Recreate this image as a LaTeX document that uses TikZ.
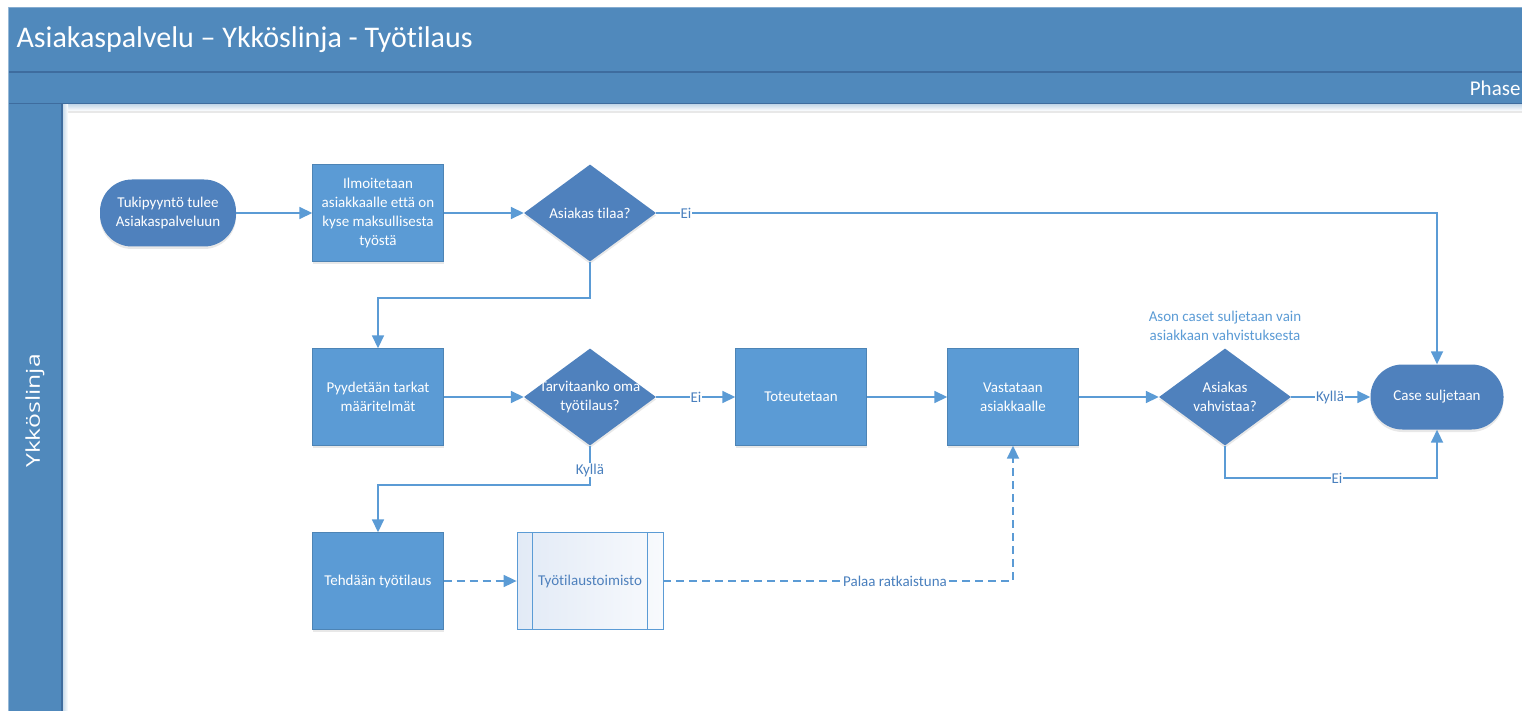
\documentclass[tikz,border=0pt]{standalone}
\usepackage{fontspec}
\setmainfont{Carlito}[RawFeature=-liga]
\newfontfamily\lanefont{Open Sans}
\usetikzlibrary{shapes.geometric,arrows.meta,shadows,calc}

\definecolor{band}{RGB}{80,137,188}
\definecolor{bandline}{RGB}{62,108,158}
\definecolor{darknode}{RGB}{79,129,189}
\definecolor{lightnode}{RGB}{91,155,213}
\definecolor{wire}{RGB}{91,155,213}
\definecolor{lbltext}{RGB}{74,128,190}
\definecolor{subleft}{RGB}{226,234,246}
\definecolor{subright}{RGB}{248,250,253}

\begin{document}
\begin{tikzpicture}[x=1pt,y=-1pt,
  font=\fontsize{15}{19}\selectfont,
  shade/.style={drop shadow={shadow xshift=0pt,shadow yshift=-2.5pt,opacity=0.18}},
  term/.style={rectangle,rounded corners=32pt,fill=darknode,text=white,align=center,
    minimum width=136pt,minimum height=67pt,inner sep=2pt,shade},
  proc/.style={rectangle,fill=lightnode,draw=lightnode!85!black,line width=0.4pt,text=white,align=center,
    minimum width=131pt,minimum height=97pt,inner sep=2pt,shade},
  decision/.style={diamond,fill=darknode,minimum width=132pt,minimum height=97pt,inner sep=0pt,shade},
  dtext/.style={text=white,align=center,inner sep=0pt},
  sub/.style={rectangle,draw=wire,line width=0.8pt,left color=subleft,right color=subright,
    text=darknode,minimum width=146pt,minimum height=97pt,inner sep=2pt},
  flow/.style={draw=wire,line width=1.7pt,-{Triangle[length=13pt,width=12pt]}},
  dflow/.style={flow,dash pattern=on 8pt off 5pt},
  lbl/.style={fill=white,text=lbltext,inner sep=1pt},
  note/.style={text=wire,align=center,inner sep=0pt}]

\useasboundingbox (0,0) rectangle (1522,711);

% header bands and swimlane column
\fill[band] (8,7) rectangle (1522,104);
\draw[band!70!white,line width=0.8pt] (8,7) -- (1522,7);
\draw[bandline,line width=1.4pt] (8,72) -- (1522,72);
\draw[bandline,line width=1.4pt] (8,104) -- (1522,104);
\shade[top color=band!30!white,bottom color=white] (62,105) rectangle (1522,111);
\shade[left color=band!30!white,right color=white] (63,105) rectangle (68,711);
\fill[band] (8,104) rectangle (62,711);
\draw[bandline,line width=1.2pt] (62,104) -- (62,711);
\draw[band!60!white,line width=1pt] (8,7) -- (8,711);

\node[anchor=west,text=white,font=\fontsize{30}{34}\selectfont] (title) at (13,40)
  {Asiakaspalvelu – Ykköslinja - Työtilaus};
\node[anchor=east,text=white,font=\fontsize{21}{24}\selectfont] (phase) at (1524,88) {Phase};
\node[rotate=90,text=white,font=\lanefont\fontsize{19}{22}\selectfont] (lane) at (35,411)
  {\scalebox{1.3}[1]{Ykköslinja}};

% flow nodes
\node[term] (start) at (168,213) {Tukipyyntö tulee\\Asiakaspalveluun};
\node[proc] (notify) at (378,213) {Ilmoitetaan\\asiakkaalle että on\\kyse maksullisesta\\työstä};
\node[decision] (d1) at (590,213) {};
\node[dtext] (d1t) at (d1) {Asiakas tilaa?};
\node[proc] (spec) at (378,397) {Pyydetään tarkat\\määritelmät};
\node[decision] (d2) at (590,397) {};
\node[dtext] (d2t) at (d2) {Tarvitaanko oma\\työtilaus?};
\node[proc] (impl) at (801,397) {Toteutetaan};
\node[proc] (reply) at (1013,397) {Vastataan\\asiakkaalle};
\node[decision] (d3) at (1225,397) {};
\node[dtext] (d3t) at (d3) {Asiakas\\vahvistaa?};
\node[term,minimum width=133pt,minimum height=65pt] (close) at (1437,397) {Case suljetaan};
\node[proc] (order) at (378,581) {Tehdään työtilaus};
\node[sub] (office) at (590,581) {Työtilaustoimisto};
\draw[wire,line width=0.8pt] ($(office.north west)+(16,0)$) -- ($(office.south west)+(16,0)$);
\draw[wire,line width=0.8pt] ($(office.north east)+(-16,0)$) -- ($(office.south east)+(-16,0)$);
\node[note] (memo) at (1225,326) {Ason caset suljetaan vain\\asiakkaan vahvistuksesta};

% connectors
\draw[flow] (start) -- (notify);
\draw[flow] (notify) -- (d1);
\draw[flow] (d1.east) -- (d1.east -| close.north) -- (close.north);
\draw[flow] (d1.south) -- ++(0,36) -| (spec.north);
\draw[flow] (spec) -- (d2);
\draw[flow] (d2) -- (impl);
\draw[flow] (impl) -- (reply);
\draw[flow] (reply) -- (d3);
\draw[flow] (d3) -- (close);
\draw[flow] (d3.south) -- ++(0,32) -| (close.south);
\draw[flow] (d2.south) -- ++(0,39) -| (order.north);
\draw[dflow] (order) -- (office);
\draw[dflow] (office.east) -| (reply.south);

% connector labels
\node[lbl] (l1) at (686,213) {Ei};
\node[lbl] (l2) at (696,397) {Ei};
\node[lbl] (l3) at (1330,397) {Kyllä};
\node[lbl] (l4) at (1337,478) {Ei};
\node[lbl] (l5) at (590,470) {Kyllä};
\node[lbl] (l6) at (895,581) {Palaa ratkaistuna};
\end{tikzpicture}
\end{document}
